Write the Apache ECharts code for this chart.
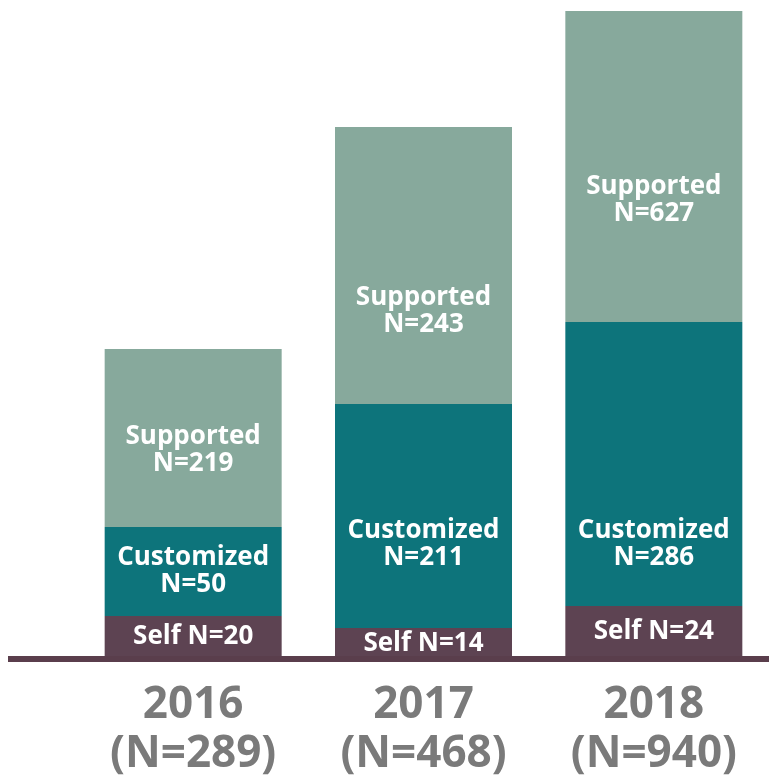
<!DOCTYPE html>
<html>
<head>
<meta charset="utf-8">
<script src="https://cdn.jsdelivr.net/npm/echarts@6/dist/echarts.min.js"></script>
<style>
html,body{margin:0;padding:0;background:#fff;}
#chart{width:769px;height:780px;}
</style>
</head>
<body>
<div id="chart"></div>
<script>
// Categories and totals (tick labels)
var years = ['2016', '2017', '2018'];
var totalN = [289, 468, 940];

// Counts shown in the segment labels
var selfN = [20, 14, 24];
var customizedN = [50, 211, 286];
var supportedN = [219, 243, 627];

// Segment heights as drawn in the picture (the infographic is not to scale)
var selfHeight = [41, 29, 51];
var customizedHeight = [89, 224, 284];
var supportedHeight = [178, 277, 311];

// Label vertical nudges (layout only)
var supportedLabelDy = [12, 46, 34];
var customizedLabelDy = [0, 28, 80];
var selfLabelDy = [0, 1, 0];

var FONT = '"Open Sans", "Noto Sans", sans-serif';

function seg(heights, dys) {
  return heights.map(function (h, i) {
    return { value: h, label: { offset: [0, dys[i]] } };
  });
}

var labelBase = {
  show: true,
  position: 'inside',
  color: '#ffffff',
  fontFamily: FONT,
  fontWeight: 'bold',
  fontSize: 26,
  lineHeight: 27
};

var chart = echarts.init(document.getElementById('chart'), null, { renderer: 'canvas' });
chart.setOption({
  animation: false,
  backgroundColor: '#ffffff',
  grid: { left: 78, top: 11, width: 706, height: 646 },
  xAxis: {
    type: 'category',
    data: years,
    axisLine: { show: false },
    axisTick: { show: false },
    axisLabel: {
      margin: 24,
      color: '#7a7a7a',
      fontFamily: FONT,
      fontWeight: 'bold',
      fontSize: 44,
      lineHeight: 49,
      formatter: function (v, i) { return v + '\n(N=' + totalN[i] + ')'; }
    }
  },
  yAxis: { type: 'value', min: 0, max: 646, show: false },
  series: [
    {
      name: 'Self', type: 'bar', stack: 'all', barWidth: 177,
      itemStyle: { color: '#5d4352' },
      label: Object.assign({}, labelBase, {
        formatter: function (p) { return 'Self N=' + selfN[p.dataIndex]; }
      }),
      data: seg(selfHeight, selfLabelDy)
    },
    {
      name: 'Customized', type: 'bar', stack: 'all', barWidth: 177,
      itemStyle: { color: '#0d747b' },
      label: Object.assign({}, labelBase, {
        formatter: function (p) { return 'Customized\nN=' + customizedN[p.dataIndex]; }
      }),
      data: seg(customizedHeight, customizedLabelDy)
    },
    {
      name: 'Supported', type: 'bar', stack: 'all', barWidth: 177,
      itemStyle: { color: '#87a99c' },
      label: Object.assign({}, labelBase, {
        formatter: function (p) { return 'Supported\nN=' + supportedN[p.dataIndex]; }
      }),
      data: seg(supportedHeight, supportedLabelDy)
    }
  ],
  graphic: [
    {
      type: 'rect', z: 100,
      shape: { x: 8, y: 656, width: 761, height: 6 },
      style: { fill: '#5a3e4c' }
    }
  ]
});
</script>
</body>
</html>
